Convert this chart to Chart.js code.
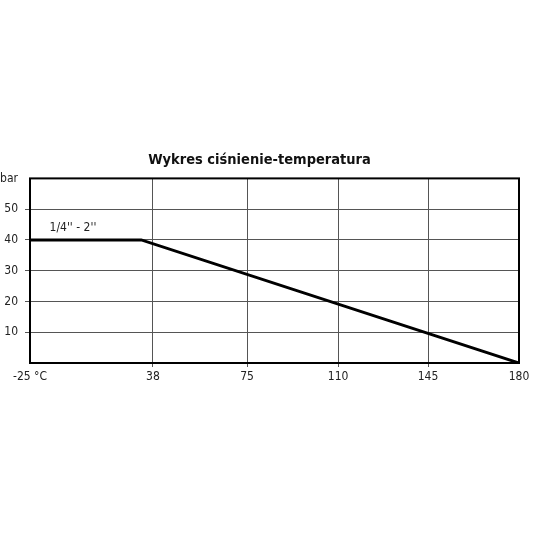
<!DOCTYPE html>
<html lang="pl">
<head>
<meta charset="UTF-8">
<title>Wykres ciśnienie-temperatura</title>
<script src="https://cdn.jsdelivr.net/npm/chart.js"></script>
<style>
  html, body { margin: 0; padding: 0; background: #fff; }
  #wrap { width: 540px; height: 540px; }
</style>
</head>
<body>
<div id="wrap"><canvas id="chart"></canvas></div>
<script>
// temperatures (°C) shown on the x axis
const tempTicks = [-25, 38, 75, 110, 145, 180];
// pressure curve
const curveTemp = [-25, 32, 180];
const curvePressure = [40, 40, 0];
// y axis ticks (bar), top one carries the unit
const pressureTicks = [0, 10, 20, 30, 40, 50, 60];
const seriesLabel = "1/4'' - 2''";

const FONT = "'Liberation Sans Narrow', 'DejaVu Sans Condensed', 'Roboto', sans-serif";

// x axis in the drawing is not linear: first section is wider than the rest.
// piecewise linear scale between tick stops
class StepScale extends Chart.LinearScale {
  static id = 'step';
  static defaults = {};
  buildTicks() {
    return this.options.stops.map(v => ({ value: v }));
  }
  decimalFor(value) {
    const s = this.options.stops, f = this.options.fractions;
    if (value <= s[0]) return f[0];
    for (let i = 1; i < s.length; i++) {
      if (value <= s[i]) {
        return f[i - 1] + (value - s[i - 1]) / (s[i] - s[i - 1]) * (f[i] - f[i - 1]);
      }
    }
    return f[f.length - 1];
  }
  getPixelForValue(value) {
    return this.getPixelForDecimal(this.decimalFor(value));
  }
  getValueForPixel(pixel) {
    const d = this.getDecimalForPixel(pixel);
    const s = this.options.stops, f = this.options.fractions;
    for (let i = 1; i < f.length; i++) {
      if (d <= f[i]) return s[i - 1] + (d - f[i - 1]) / (f[i] - f[i - 1]) * (s[i] - s[i - 1]);
    }
    return s[s.length - 1];
  }
}
Chart.register(StepScale);

const frame = {
  id: 'frame',
  beforeDatasetsDraw(chart) {
    const { ctx, chartArea: a } = chart;
    ctx.save();
    ctx.strokeStyle = '#000';
    ctx.lineWidth = 2;
    ctx.strokeRect(a.left, a.top, a.right - a.left, a.bottom - a.top);
    ctx.restore();
  },
  afterDatasetsDraw(chart) {
    const { ctx, scales } = chart;
    ctx.save();
    ctx.font = '12px ' + FONT;
    ctx.fillStyle = '#222';
    ctx.textAlign = 'center';
    ctx.textBaseline = 'middle';
    ctx.fillText(seriesLabel, scales.x.getPixelForValue(-3), scales.y.getPixelForValue(44));
    ctx.restore();
  }
};

new Chart(document.getElementById('chart'), {
  type: 'line',
  data: {
    datasets: [{
      label: seriesLabel,
      data: curveTemp.map((t, i) => ({ x: t, y: curvePressure[i] })),
      borderColor: '#000',
      borderWidth: 3,
      pointRadius: 0,
      tension: 0,
      fill: false
    }]
  },
  options: {
    responsive: true,
    maintainAspectRatio: false,
    animation: false,
    events: [],
    layout: { padding: { left: 0, right: 21, top: 0, bottom: 147 } },
    plugins: {
      legend: { display: false },
      tooltip: { enabled: false },
      title: {
        display: true,
        text: 'Wykres ciśnienie-temperatura',
        color: '#111',
        font: { family: FONT, size: 14.5, weight: 'bold' },
        padding: { top: 152, bottom: 9 }
      }
    },
    scales: {
      x: {
        type: 'step',
        min: tempTicks[0],
        max: tempTicks[tempTicks.length - 1],
        stops: tempTicks,
        fractions: [0, 0.2515, 0.444, 0.630, 0.814, 1],
        border: { display: false },
        grid: {
          color: c => (c.index === 0 || c.index === tempTicks.length - 1) ? 'rgba(0,0,0,0)' : '#555',
          lineWidth: 1,
          tickLength: 4
        },
        ticks: {
          color: '#222',
          font: { family: FONT, size: 12 },
          padding: 3,
          maxRotation: 0,
          autoSkip: false,
          callback: v => v === tempTicks[0] ? v + ' °C' : v
        },
        afterFit: s => { s.height = 30; }
      },
      y: {
        min: pressureTicks[0],
        max: pressureTicks[pressureTicks.length - 1],
        afterBuildTicks: s => { s.ticks = pressureTicks.map(v => ({ value: v })); },
        border: { display: false },
        grid: {
          color: c => (c.tick.value === 0 || c.tick.value === 60) ? 'rgba(0,0,0,0)' : '#555',
          lineWidth: 1,
          tickLength: 5
        },
        ticks: {
          color: '#222',
          font: { family: FONT, size: 12 },
          padding: 7,
          callback: v => v === 0 ? '' : (v === 60 ? 'bar' : v)
        },
        afterFit: s => { s.width = 30; }
      }
    }
  },
  plugins: [frame]
});
</script>
</body>
</html>
